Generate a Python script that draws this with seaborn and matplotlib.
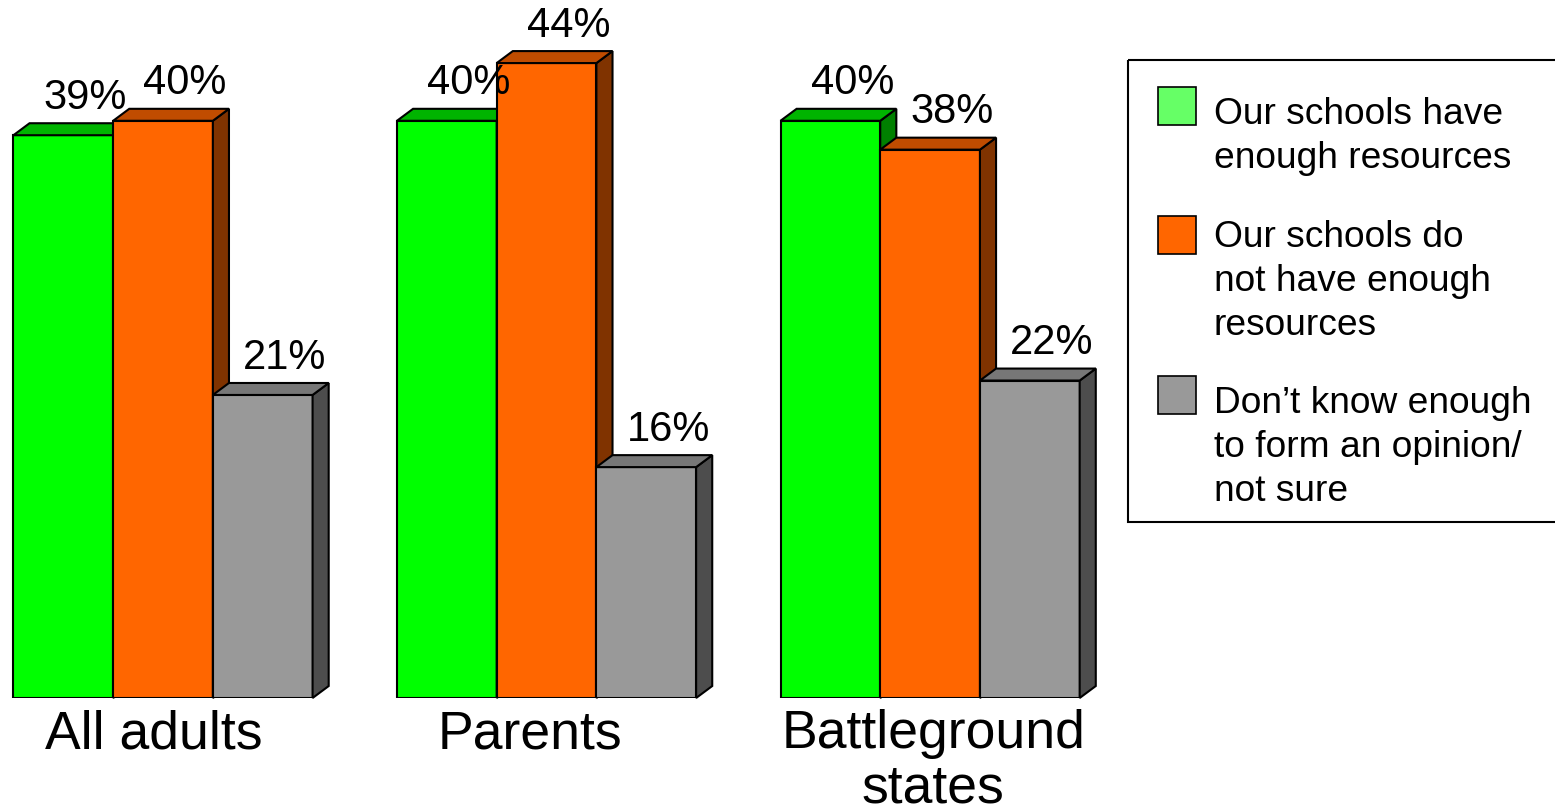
import pandas as pd
import matplotlib.pyplot as plt
import matplotlib.patches as mpatches
import matplotlib.transforms as mtransforms
import seaborn as sns

# --- data ---
groups = ['All adults', 'Parents', 'Battleground\nstates']
series = ['Our schools have\nenough resources',
          'Our schools do\nnot have enough\nresources',
          'Don\u2019t know enough\nto form an opinion/\nnot sure']
have_enough = [39, 40, 40]
not_enough = [40, 44, 38]
not_sure = [21, 16, 22]

front_colors = ['#00FF00', '#FF6600', '#999999']
top_colors = ['#00B400', '#C04C00', '#777777']
side_colors = ['#008000', '#803300', '#4D4D4D']
legend_colors = ['#66FF66', '#FF6600', '#999999']

df = pd.DataFrame({
    'group': groups * 3,
    'series': [s for s in series for _ in groups],
    'value': have_enough + not_enough + not_sure,
})

sns.set_style('white')
plt.rcParams['font.family'] = ['Liberation Sans', 'DejaVu Sans']
plt.rcParams['text.color'] = 'black'
plt.rcParams['xtick.color'] = 'black'

fig = plt.figure(figsize=(15.55, 8.06), dpi=100)
ax = fig.add_axes([0, 108 / 806, 1100 / 1555, 698 / 806])

sns.barplot(data=df, x='group', y='value', hue='series', palette=front_colors,
            width=0.78, saturation=1, edgecolor='black', linewidth=1.5,
            errorbar=None, legend=False, ax=ax)

ax.set_xlim(-0.425, 2.443)
ax.set_ylim(0, 48.37)
for s in ax.spines.values():
    s.set_visible(False)
ax.set_yticks([])
ax.set_xlabel('')
ax.set_ylabel('')
ax.tick_params(axis='x', length=0, pad=8, labelsize=38.5)

# category labels sit a little off the group centres in the reference
label_shift_px = [-9, -17, 3]
for lab, sh in zip(ax.get_xticklabels(), label_shift_px):
    lab.set_linespacing(1.12)
    lab.set_transform(lab.get_transform() +
                      mtransforms.ScaledTranslation(sh / 100, 0, fig.dpi_scale_trans))

# fake 3D depth (data units)
dx, dy = 0.042, 0.83

for h, cont in enumerate(ax.containers):
    for bar, v in zip(cont.patches, cont.datavalues):
        x0 = bar.get_x()
        x1 = x0 + bar.get_width()
        y1 = bar.get_height()
        bar.set_zorder(10 + 3 * h)
        top = mpatches.Polygon([(x0, y1), (x0 + dx, y1 + dy), (x1 + dx, y1 + dy), (x1, y1)],
                               closed=True, facecolor=top_colors[h], edgecolor='black',
                               linewidth=1.5, zorder=11 + 3 * h, clip_on=False)
        side = mpatches.Polygon([(x1, 0), (x1 + dx, dy), (x1 + dx, y1 + dy), (x1, y1)],
                                closed=True, facecolor=side_colors[h], edgecolor='black',
                                linewidth=1.5, zorder=11 + 3 * h, clip_on=False)
        ax.add_patch(side)
        ax.add_patch(top)
        ax.text((x0 + x1) / 2 + dx + 0.015, y1 + dy + 1.0, f'{v:.0f}%',
                ha='center', va='baseline', fontsize=30, zorder=30)

# legend box drawn in pixel space
lax = fig.add_axes([0, 0, 1, 1])
lax.set_xlim(0, 1555)
lax.set_ylim(806, 0)
lax.axis('off')
lax.set_facecolor('none')
lax.add_patch(mpatches.Rectangle((1128, 60), 440, 462, fill=False,
                                 edgecolor='black', linewidth=1.5))
box_tops = [87, 216, 376]
baselines = [124, 247, 413]
for lab, col, bt, bl in zip(series, legend_colors, box_tops, baselines):
    lax.add_patch(mpatches.Rectangle((1158, bt), 38, 38, facecolor=col,
                                     edgecolor='black', linewidth=1.2))
    for i, line in enumerate(lab.split('\n')):
        lax.text(1214, bl + 44 * i, line, ha='left', va='baseline', fontsize=26.7)

plt.savefig('out.png', dpi=100)
plt.close()
